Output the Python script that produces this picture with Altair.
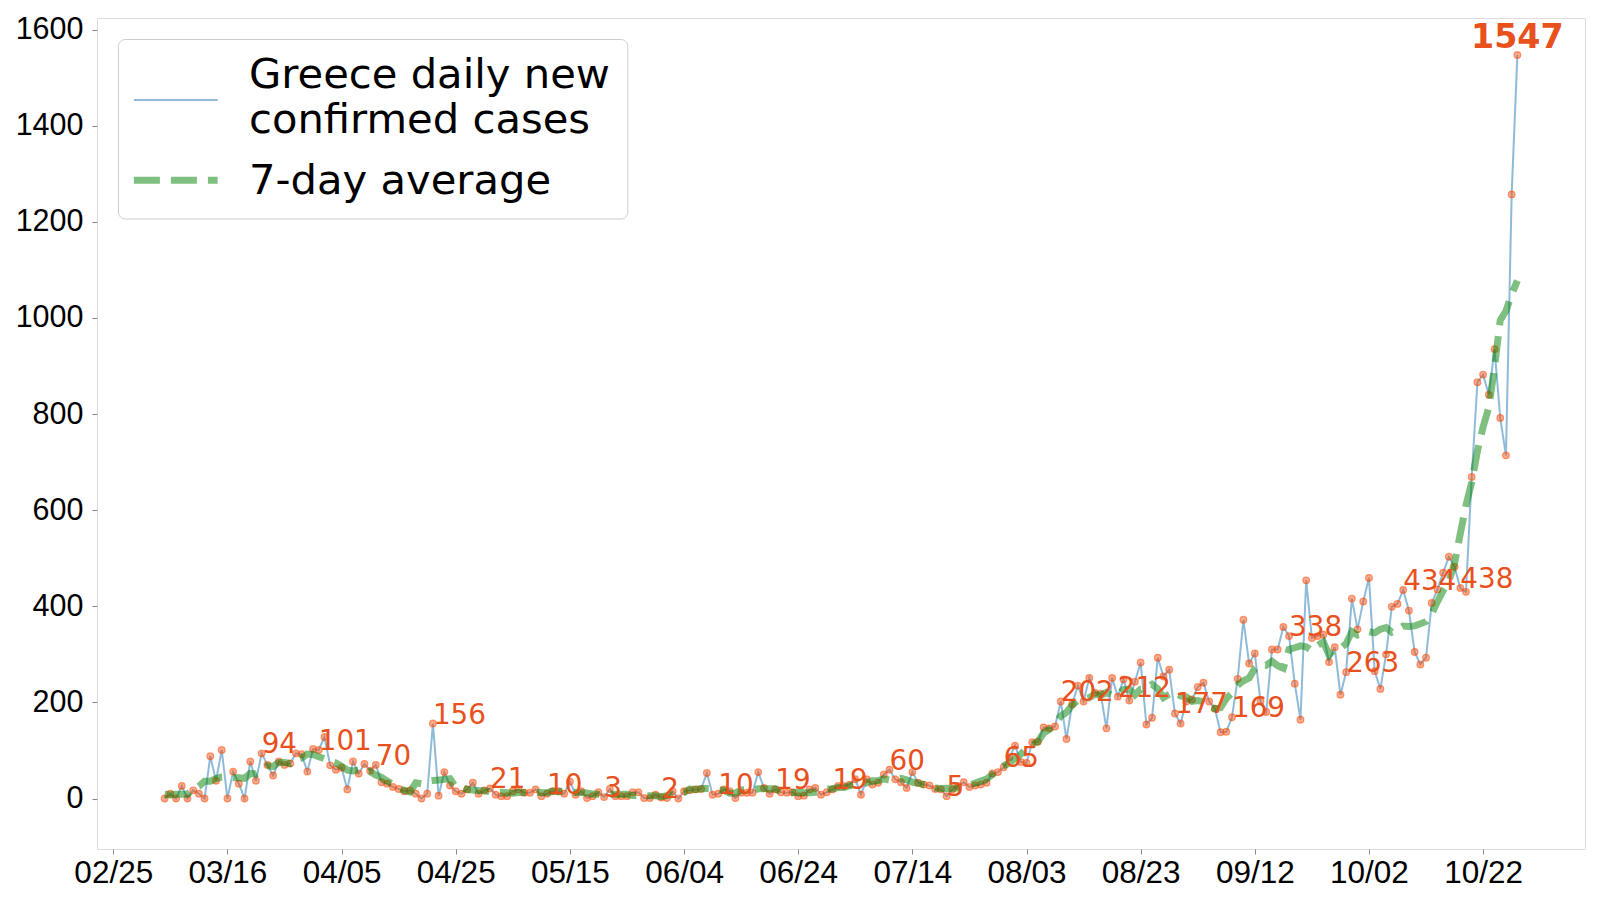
import altair as alt
import pandas as pd

start_date = "2020-03-05"
daily_cases = [
    0, 10, 0, 26, 0, 17, 10, 0, 88, 37,
    101, 0, 56, 31, 0, 77, 37, 94, 70, 48,
    77, 70, 73, 94, 92, 56, 103, 101, 128, 69,
    60, 64, 19, 77, 52, 72, 58, 70, 34, 31,
    24, 20, 15, 17, 10, 0, 10, 156, 6, 55,
    27, 15, 10, 19, 33, 10, 17, 21, 8, 5,
    5, 15, 19, 12, 12, 19, 5, 10, 15, 15,
    10, 35, 8, 15, 1, 5, 13, 3, 20, 5,
    5, 5, 13, 13, 1, 1, 8, 2, 1, 15,
    0, 15, 17, 19, 20, 53, 8, 10, 19, 15,
    1, 12, 12, 12, 55, 22, 10, 19, 13, 12,
    13, 5, 6, 19, 22, 8, 13, 19, 26, 26,
    29, 40, 8, 40, 29, 33, 50, 60, 40, 34,
    22, 55, 33, 29, 27, 20, 19, 5, 19, 26,
    34, 24, 27, 29, 33, 52, 55, 65, 86, 110,
    76, 74, 117, 118, 148, 146, 150, 202, 124, 196,
    235, 202, 251, 220, 218, 146, 251, 212, 248, 204,
    243, 283, 154, 168, 293, 254, 268, 177, 156, 202,
    206, 232, 241, 202, 187, 138, 139, 169, 249, 372,
    281, 302, 202, 180, 310, 310, 357, 338, 239, 164,
    454, 334, 338, 341, 284, 315, 216, 263, 416, 352,
    410, 459, 265, 228, 300, 399, 405, 434, 391, 305,
    279, 293, 407, 435, 470, 503, 482, 438, 430, 669,
    866, 882, 840, 935, 792, 714, 1257, 1547,
]
label_days = [17, 27, 37, 47, 57, 67, 77, 87, 97, 107, 117, 127, 137,
              147, 157, 167, 177, 187, 197, 207, 217, 227]
peak_day = 237
tick_start = "2020-02-25"
tick_step_days = 20
tick_count = 13
y_ticks = [0, 200, 400, 600, 800, 1000, 1200, 1400, 1600]
legend_line1 = ["Greece daily new", "confirmed cases"]
legend_line2 = "7-day average"

dates = pd.date_range(start_date, periods=len(daily_cases), freq="D")
df = pd.DataFrame({"date": dates.strftime("%Y-%m-%d"), "cases": daily_cases})
lab_df = df.iloc[label_days].copy()
lab_df["label"] = lab_df["cases"].astype(str)
peak_df = df.iloc[[peak_day]].copy()
peak_df["label"] = peak_df["cases"].astype(str)
one = pd.DataFrame({"k": [0]})


def ms(ts):
    return int(pd.Timestamp(ts).value // 10**6)


span = dates[-1] - dates[0]
x_domain = [ms(dates[0] - span * 0.05), ms(dates[-1] + span * 0.05)]
tick_vals = [ms(pd.Timestamp(tick_start) + pd.Timedelta(days=tick_step_days * k))
             for k in range(tick_count)]

FONT = "DejaVu Sans"
BLUE = "#1f77b4"
GREEN = "green"
ORANGE = "#ff4500"
LABEL_COLOR = "#e8501c"

xenc = alt.X("date:T", title=None,
             scale=alt.Scale(type="utc", domain=x_domain, nice=False),
             axis=alt.Axis(values=tick_vals,
                           labelExpr="utcFormat(datum.value, '%m/%d')",
                           labelFontSize=31.5, grid=False, domain=False,
                           tickSize=5, labelPadding=3, labelFlush=False))
yscale = alt.Scale(domain=[-105, 1624], nice=False, zero=False)
yaxis = alt.Axis(values=y_ticks, format="d", labelFontSize=30.5, grid=False,
                 domain=False, tickSize=5, labelPadding=9, title=None)

base = alt.Chart(df)

blue = base.mark_line(color=BLUE, opacity=0.5, strokeWidth=2).encode(
    x=xenc, y=alt.Y("cases:Q", scale=yscale, axis=yaxis))

points = base.mark_circle(size=45, color=ORANGE, fillOpacity=0.45,
                          stroke=ORANGE, strokeOpacity=0.5,
                          strokeWidth=1.2).encode(
    x=xenc, y=alt.Y("cases:Q", scale=yscale, axis=yaxis))

green = base.transform_window(
    avg="mean(cases)", frame=[-3, 3], sort=[alt.SortField("date")]
).mark_line(color=GREEN, opacity=0.5, strokeWidth=7, strokeDash=[26, 11]).encode(
    x=xenc, y=alt.Y("avg:Q", scale=yscale, axis=yaxis))

labels = alt.Chart(lab_df).mark_text(
    align="left", baseline="alphabetic", fontSize=27.8, font=FONT,
    color=LABEL_COLOR).encode(
    x=xenc, y=alt.Y("cases:Q", scale=yscale, axis=yaxis), text="label:N")

peak = alt.Chart(peak_df).mark_text(
    align="center", baseline="alphabetic", dy=-7, fontSize=33.3, font=FONT,
    fontWeight="bold", color=LABEL_COLOR).encode(
    x=xenc, y=alt.Y("cases:Q", scale=yscale, axis=yaxis), text="label:N")

# legend (drawn as a framed box in the upper-left corner of the plot)
leg_box = alt.Chart(one).mark_rect(
    cornerRadius=7, fill="white", fillOpacity=0.8, stroke="#cccccc",
    strokeWidth=1).encode(x=alt.value(21.4), x2=alt.value(530.8),
                          y=alt.value(21.5), y2=alt.value(201))
leg_blue = alt.Chart(one).mark_rule(
    color=BLUE, opacity=0.5, strokeWidth=2).encode(
    x=alt.value(36.9), x2=alt.value(120.6), y=alt.value(82))
leg_green = alt.Chart(one).mark_rule(
    color=GREEN, opacity=0.5, strokeWidth=7, strokeDash=[26, 11]).encode(
    x=alt.value(36.9), x2=alt.value(120.6), y=alt.value(162.2))
leg_text1 = alt.Chart(one).mark_text(
    align="left", baseline="alphabetic", fontSize=41.7, font=FONT,
    lineHeight=45.5, color="black").encode(
    x=alt.value(152), y=alt.value(69.5), text=alt.value(legend_line1))
leg_text2 = alt.Chart(one).mark_text(
    align="left", baseline="alphabetic", fontSize=41.7, font=FONT,
    color="black").encode(
    x=alt.value(152), y=alt.value(176), text=alt.value(legend_line2))

chart = alt.layer(blue, points, green, labels, peak,
                  leg_box, leg_blue, leg_green, leg_text1, leg_text2).properties(
    width=1488, height=831,
    autosize=alt.AutoSizeParams(type="none"),
    padding={"left": 89, "top": 10, "right": 7, "bottom": 43},
).configure_view(stroke="black", strokeWidth=1.1).configure_axis(
    labelFont=FONT, labelColor="black", tickColor="black", tickWidth=1.1,
).configure(background="white")

chart.save("out.html", embed_options={"renderer": "svg", "actions": False})
